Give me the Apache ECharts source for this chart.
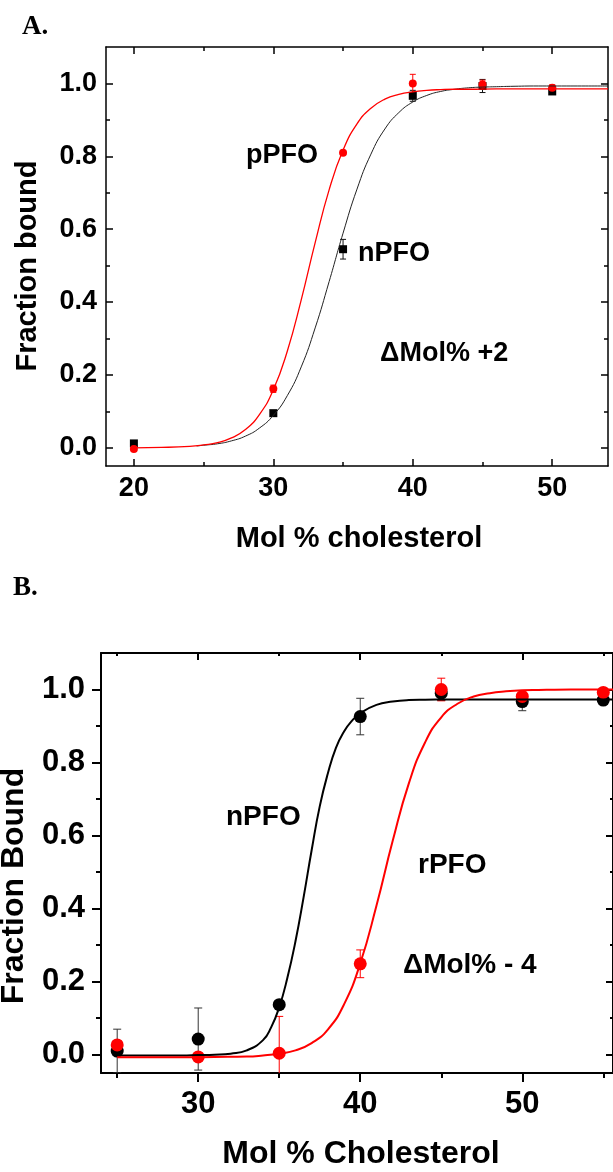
<!DOCTYPE html>
<html><head><meta charset="utf-8">
<script src="https://cdn.jsdelivr.net/npm/echarts@6/dist/echarts.min.js"></script>
<style>html,body{margin:0;padding:0;background:#fff}#c{width:613px;height:1172px}</style>
</head><body><div id="c"></div>
<script>
// ---------- Panel A data ----------
const xA = [20, 30, 35, 40, 45, 50];
const nPFO_A = [0.012, 0.095, 0.545, 0.966, 0.993, 0.978];
const nPFO_A_err = [0.006, 0.006, 0.027, 0.015, 0.018, 0.008];
const pPFO_A = [-0.003, 0.162, 0.81, 1.0, 0.997, 0.988];
const pPFO_A_err = [0.006, 0.01, 0.005, 0.025, 0.012, 0.008];
const fitA_nPFO = [[24.5,0.005],[25,0.007],[26,0.011],[27,0.019],[28,0.032],[29,0.054],[30,0.089],[31,0.143],[32,0.222],[33,0.329],[34,0.456],[35,0.589],[36,0.710],[37,0.806],[38,0.875],[39,0.920],[40,0.949],[41,0.967],[42,0.978],[43,0.984],[44,0.988],[45,0.990],[46,0.991],[47,0.992],[49,0.993],[51,0.993],[54,0.993]];
const fitA_pPFO = [[20,0.000],[22,0.001],[24,0.004],[25,0.008],[26,0.014],[27,0.027],[28,0.050],[29,0.091],[30,0.159],[31,0.265],[32,0.406],[33,0.563],[34,0.708],[35,0.817],[36,0.889],[37,0.932],[38,0.957],[39,0.970],[40,0.977],[41,0.981],[42,0.983],[43,0.984],[44,0.984],[46,0.985],[48,0.985],[51,0.985],[54,0.985]];
const xTicksA = [20, 30, 40, 50];
const xMinorA = [25, 35, 45];
// ---------- Panel B data ----------
const xB = [25, 30, 35, 40, 45, 50, 55];
const nPFO_B = [0.010, 0.043, 0.137, 0.926, 0.99, 0.967, 0.971];
const nPFO_B_err = [0.06, 0.085, 0, 0.05, 0.02, 0.025, 0.01];
const rPFO_B = [0.027, -0.006, 0.004, 0.249, 1.0, 0.981, 0.992];
const rPFO_B_err = [0.01, 0.01, 0.101, 0.038, 0.031, 0.01, 0.008];
const fitB_nPFO = [[25,-0.002],[27,-0.002],[29,-0.002],[30,-0.001],[31,0.0],[32,0.003],[33,0.012],[34,0.04],[34.5,0.075],[35,0.13],[35.5,0.21],[36,0.31],[36.5,0.43],[37,0.56],[37.5,0.68],[38,0.77],[38.5,0.84],[39,0.885],[39.5,0.915],[40,0.935],[41,0.958],[42,0.967],[43,0.971],[44,0.972],[46,0.973],[48,0.973],[51,0.973],[54,0.973],[56,0.973]];
const fitB_rPFO = [[25,-0.007],[27,-0.007],[29,-0.007],[31,-0.006],[33,-0.005],[34,-0.002],[35,0.003],[36,0.012],[37,0.032],[38,0.069],[39,0.138],[40,0.250],[41,0.408],[42,0.585],[43,0.743],[44,0.855],[45,0.924],[46,0.961],[47,0.981],[48,0.990],[49,0.995],[50,0.998],[51,0.999],[52,0.9995],[54,1.0],[56,1.0]];
const xTicksB = [30, 40, 50];
const xMinorB = [25, 35, 45, 55];
// ---------- shared y ticks ----------
const yTicks = [0, 0.2, 0.4, 0.6, 0.8, 1.0];
const yMinor = [0.1, 0.3, 0.5, 0.7, 0.9];

const SANS = '"Liberation Sans", Arial, sans-serif';
const SERIF = '"Liberation Serif", "Times New Roman", serif';

function pts(xs, ys) { return xs.map((x, i) => [x, ys[i]]); }
function errs(xs, ys, es) { return xs.map((x, i) => [x, ys[i] - es[i], ys[i] + es[i]]).filter((d, i) => es[i] > 0); }

function axis(grid, pos, min, max, ticks, len, inside, lw, label, lineShow) {
  return {
    type: 'value', gridIndex: grid, position: pos, min: min, max: max,
    splitLine: { show: false },
    axisLine: { show: lineShow, onZero: false, lineStyle: { color: '#000', width: lw } },
    axisTick: { show: true, customValues: ticks, inside: inside, length: len, lineStyle: { color: '#000', width: lw } },
    axisLabel: label ? Object.assign({ show: true, customValues: ticks, color: '#000', fontWeight: 'bold', fontFamily: SANS }, label) : { show: false }
  };
}

const fmt1 = v => v.toFixed(1);

const xAxes = [
  // A
  axis(0, 'bottom', 18, 54, xTicksA, 7, true, 1.5, { fontSize: 27, margin: 9 }, true),
  axis(0, 'bottom', 18, 54, xMinorA, 4, true, 1.5, null, false),
  axis(0, 'top', 18, 54, xTicksA, 7, true, 1.5, null, true),
  axis(0, 'top', 18, 54, xMinorA, 4, true, 1.5, null, false),
  // B
  axis(1, 'bottom', 24, 55.6, xTicksB, 9, false, 2, { fontSize: 31, margin: 16 }, true),
  axis(1, 'bottom', 24, 55.6, xMinorB, 5, false, 2, null, false),
  axis(1, 'top', 24, 55.6, xTicksB, 7, true, 2, null, true),
  axis(1, 'top', 24, 55.6, xMinorB, 3, true, 2, null, false)
];
const yAxes = [
  axis(0, 'left', -0.05, 1.1, yTicks, 7, true, 1.5, { fontSize: 27, margin: 9, formatter: fmt1 }, true),
  axis(0, 'left', -0.05, 1.1, yMinor, 4, true, 1.5, null, false),
  axis(0, 'right', -0.05, 1.1, yTicks, 7, true, 1.5, null, true),
  axis(0, 'right', -0.05, 1.1, yMinor, 4, true, 1.5, null, false),
  axis(1, 'left', -0.05, 1.1, yTicks, 9, false, 2, { fontSize: 31, margin: 16, formatter: fmt1 }, true),
  axis(1, 'left', -0.05, 1.1, yMinor, 5, false, 2, null, false),
  axis(1, 'right', -0.05, 1.1, yTicks, 7, true, 2, null, true),
  axis(1, 'right', -0.05, 1.1, yMinor, 3, true, 2, null, false)
];

function errBar(color, cap, width) {
  return function (params, api) {
    const x = api.value(0), lo = api.value(1), hi = api.value(2);
    const a = api.coord([x, lo]), b = api.coord([x, hi]);
    const h = cap / 2;
    const st = { stroke: color, lineWidth: width };
    return { type: 'group', children: [
      { type: 'line', shape: { x1: a[0], y1: a[1], x2: b[0], y2: b[1] }, style: st },
      { type: 'line', shape: { x1: b[0] - h, y1: b[1], x2: b[0] + h, y2: b[1] }, style: st },
      { type: 'line', shape: { x1: a[0] - h, y1: a[1], x2: a[0] + h, y2: a[1] }, style: st }
    ] };
  };
}

function fitLine(data, xi, yi, color, w) {
  return { type: 'line', xAxisIndex: xi, yAxisIndex: yi, data: data, showSymbol: false, smooth: 0.5,
    lineStyle: { color: color, width: w }, silent: true, clip: true };
}
function errSeries(data, xi, yi, color, cap, w) {
  return { type: 'custom', xAxisIndex: xi, yAxisIndex: yi, data: data, renderItem: errBar(color, cap, w), clip: true, silent: true };
}
function scat(data, xi, yi, color, sym, size) {
  return { type: 'scatter', xAxisIndex: xi, yAxisIndex: yi, data: data, symbol: sym, symbolSize: size, itemStyle: { color: color, opacity: 1 }, silent: true };
}

const series = [
  fitLine(fitA_nPFO, 0, 0, '#222', 1),
  fitLine(fitA_pPFO, 0, 0, '#ff0000', 1.3),
  errSeries(errs(xA, nPFO_A, nPFO_A_err), 0, 0, '#111', 6, 1),
  scat(pts(xA, nPFO_A), 0, 0, '#000', 'rect', 8),
  errSeries(errs(xA, pPFO_A, pPFO_A_err), 0, 0, '#ff0000', 6, 1),
  scat(pts(xA, pPFO_A), 0, 0, '#ff0000', 'circle', 8),

  fitLine(fitB_nPFO, 4, 4, '#000', 2),
  fitLine(fitB_rPFO, 4, 4, '#ff0000', 2),
  errSeries(errs(xB, nPFO_B, nPFO_B_err), 4, 4, '#333', 8, 1),
  scat(pts(xB, nPFO_B), 4, 4, '#000', 'circle', 13),
  errSeries(errs(xB, rPFO_B, rPFO_B_err), 4, 4, '#ff0000', 8, 1),
  scat(pts(xB, rPFO_B), 4, 4, '#ff0000', 'circle', 13)
];

function txt(t, x, y, size, opts) {
  opts = opts || {};
  return { type: 'text', x: x, y: y, rotation: opts.rot || 0, silent: true,
    style: { text: t, x: 0, y: 0, align: opts.align || 'left', verticalAlign: 'middle',
      font: 'bold ' + size + 'px ' + (opts.serif ? SERIF : SANS), fill: '#000' } };
}

const graphic = [
  txt('A.', 22, 27, 27, { serif: true }),
  txt('pPFO', 246, 156, 27),
  txt('nPFO', 358, 254, 27),
  txt('ΔMol% +2', 380, 354, 27),
  txt('Fraction bound', 28, 266, 29, { align: 'center', rot: Math.PI / 2 }),
  txt('Mol % cholesterol', 359, 539, 29, { align: 'center' }),

  txt('B.', 13, 588, 27, { serif: true }),
  txt('nPFO', 226, 817, 28),
  txt('rPFO', 418, 865, 28),
  txt('ΔMol% - 4', 403, 965, 28),
  txt('Fraction Bound', 14, 886, 32, { align: 'center', rot: Math.PI / 2 }),
  txt('Mol % Cholesterol', 361, 1154, 32, { align: 'center' })
];

const chart = echarts.init(document.getElementById('c'), null, { renderer: 'canvas' });
chart.setOption({
  animation: false,
  backgroundColor: '#fff',
  grid: [
    { left: 106, top: 47, width: 502, height: 419, show: false },
    { left: 101, top: 653, width: 515, height: 420, show: false }
  ],
  xAxis: xAxes,
  yAxis: yAxes,
  series: series,
  graphic: graphic
});
</script></body></html>
